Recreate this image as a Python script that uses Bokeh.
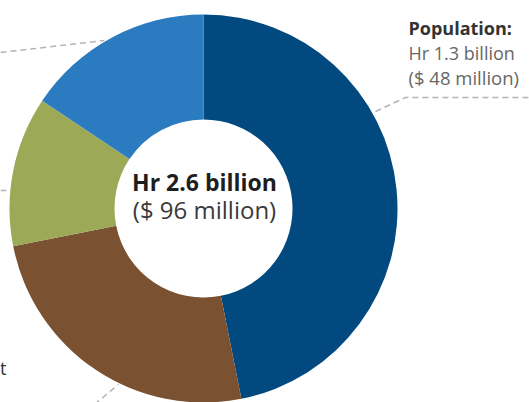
import math
from bokeh.plotting import figure
from bokeh.models import Range1d, Label, ColumnDataSource
from bokeh.embed import file_html
from bokeh.resources import INLINE

# ---- data ----
categories = ["Population", "Segment B", "Segment C", "Segment D"]
values_musd = [45, 24, 12, 15]
colors = ["#02497f", "#7a5232", "#9caa57", "#2a7bbf"]
center_title = "Hr 2.6 billion"
center_sub = "($ 96 million)"
pop_lines = ["Population:", "Hr 1.3 billion", "($ 48 million)"]
left_fragment = "t"

# ---- layout ----
W, H = 529, 402
CX, CY_PIX = 203, 208
R_OUT, R_IN = 194, 89
FONT = "Open Sans"


def Y(py):
    return H - py


total = float(sum(values_musd))
starts, ends = [], []
cum = 0.0
for v in values_musd:
    t1 = cum / total * 2 * math.pi
    t2 = (cum + v) / total * 2 * math.pi
    starts.append(math.pi / 2 - t2)
    ends.append(math.pi / 2 - t1)
    cum += v

src = ColumnDataSource(dict(cat=categories, val=values_musd, start=starts, end=ends, color=colors))

p = figure(width=W, height=H, x_range=Range1d(0, W), y_range=Range1d(0, H),
           x_axis_type=None, y_axis_type=None, toolbar_location=None,
           output_backend="svg", min_border=0, outline_line_color=None)
p.background_fill_color = "white"
p.border_fill_color = "white"

p.annular_wedge(x=CX, y=Y(CY_PIX), inner_radius=R_IN, outer_radius=R_OUT,
                start_angle="start", end_angle="end", fill_color="color",
                line_color=None, source=src)

# leader lines
dash = dict(line_color="#b4b4b4", line_width=1.5, line_dash="6 4")
p.line(x=[375, 405, W], y=[Y(111), Y(97), Y(97)], **dash)
p.line(x=[0, 104], y=[Y(52), Y(40)], **dash)
p.line(x=[0, 9], y=[Y(190), Y(190)], **dash)
p.line(x=[94, 118], y=[Y(404), Y(384)], **dash)

# center text
p.add_layout(Label(x=CX + 1, y=Y(197), text=center_title, text_align="center",
                   text_font=FONT, text_font_style="bold", text_font_size="23px",
                   text_color="#1e1e1e"))
p.add_layout(Label(x=CX + 1, y=Y(225), text=center_sub, text_align="center",
                   text_font=FONT, text_font_size="24px", text_color="#3a3a3a"))

# population label
p.add_layout(Label(x=408, y=Y(39), text=pop_lines[0], text_align="left",
                   text_font=FONT, text_font_style="bold", text_font_size="18px",
                   text_color="#333333"))
p.add_layout(Label(x=408, y=Y(64), text=pop_lines[1], text_align="left",
                   text_font=FONT, text_font_size="18px", text_color="#666666"))
p.add_layout(Label(x=408, y=Y(89), text=pop_lines[2], text_align="left",
                   text_font=FONT, text_font_size="18.5px", text_color="#666666"))

# cut-off label on the left
p.add_layout(Label(x=6, y=Y(379), text=left_fragment, text_align="right",
                   text_font=FONT, text_font_size="18px", text_color="#333333"))

open("out.html", "w").write(file_html(p, INLINE))
